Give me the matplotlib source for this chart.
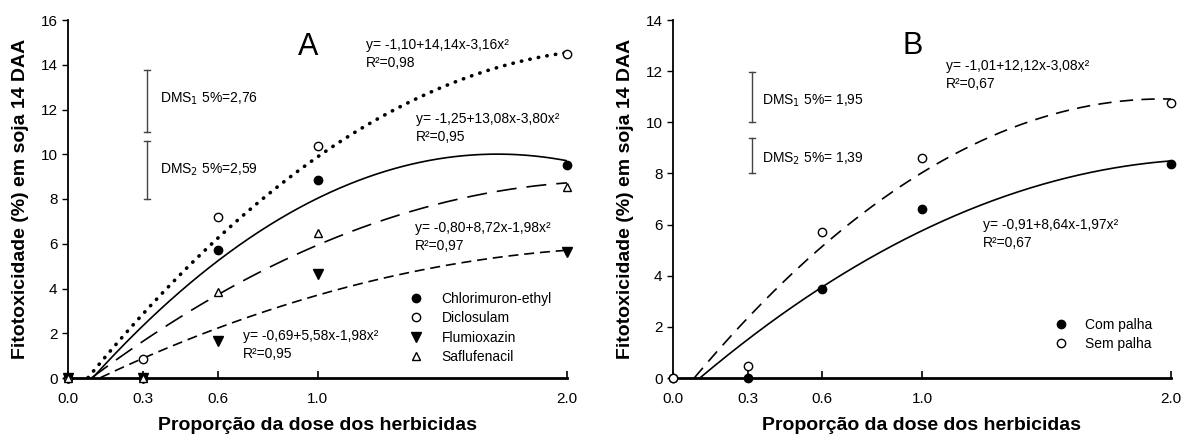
import numpy as np
import matplotlib
matplotlib.use("Agg")
import matplotlib.pyplot as plt

plt.rcParams['font.family'] = ['Liberation Sans', 'DejaVu Sans']

# ---------------- data ----------------
doses = [0.0, 0.3, 0.6, 1.0, 2.0]
xticklabels = ["0.0", "0.3", "0.6", "1.0", "2.0"]

# Panel A
chlorimuron = [0.0, 0.0, 5.7, 8.85, 9.5]
diclosulam = [0.0, 0.85, 7.2, 10.35, 14.5]
flumioxazin = [0.0, 0.0, 1.65, 4.65, 5.65]
saflufenacil = [0.0, 0.0, 3.85, 6.5, 8.55]
names_a = ["Chlorimuron-ethyl", "Diclosulam", "Flumioxazin", "Saflufenacil"]

# quadratic fit coefficients (a, b, c) for y = a + b x + c x^2
fit_chlorimuron = [-1.25, 13.08, -3.80]
fit_diclosulam = [-1.10, 14.14, -3.16]
fit_flumioxazin = [-0.69, 5.58, -1.19]
fit_saflufenacil = [-0.80, 8.72, -1.98]

eq_diclosulam = "y= -1,10+14,14x-3,16x²\nR²=0,98"
eq_chlorimuron = "y= -1,25+13,08x-3,80x²\nR²=0,95"
eq_saflufenacil = "y= -0,80+8,72x-1,98x²\nR²=0,97"
eq_flumioxazin = "y= -0,69+5,58x-1,98x²\nR²=0,95"

dms_a = [2.76, 2.59]
dms_a_text = ["DMS$_1$ 5%=2,76", "DMS$_2$ 5%=2,59"]

# Panel B
com_palha = [0.0, 0.0, 3.5, 6.6, 8.35]
sem_palha = [0.0, 0.45, 5.7, 8.6, 10.75]
names_b = ["Com palha", "Sem palha"]
fit_com = [-0.91, 8.64, -1.97]
fit_sem = [-1.01, 12.12, -3.08]
eq_sem = "y= -1,01+12,12x-3,08x²\nR²=0,67"
eq_com = "y= -0,91+8,64x-1,97x²\nR²=0,67"

dms_b = [1.95, 1.39]
dms_b_text = ["DMS$_1$ 5%= 1,95", "DMS$_2$ 5%= 1,39"]

xlabel = "Proporção da dose dos herbicidas"
ylabel = "Fitotoxicidade (%) em soja 14 DAA"

# ---------------- plotting ----------------
W, H = 1182, 437
fig = plt.figure(figsize=(W/100, H/100), dpi=100)
axA = fig.add_axes([68/W, 1-378/H, (567-68)/W, (378-20)/H])
axB = fig.add_axes([673/W, 1-378/H, (1171-673)/W, (378-20)/H])

xs = np.linspace(0, 2.0, 400)
FS = 10

def quad(c, x):
    return c[0] + c[1]*x + c[2]*x**2

def style(ax, ymax):
    ax.set_xlim(0, 2.0)
    ax.set_ylim(0, ymax)
    ax.spines['top'].set_visible(False)
    ax.spines['right'].set_visible(False)
    ax.spines['bottom'].set_linewidth(2.0)
    ax.spines['left'].set_linewidth(1.3)
    ax.set_xticks(doses)
    ax.set_xticklabels(xticklabels)
    ax.set_yticks(np.arange(0, ymax+1, 2))
    ax.tick_params(axis='x', direction='in', length=5, width=1.2, labelsize=11, pad=10)
    ax.tick_params(axis='y', direction='out', length=4, width=1.0, labelsize=11)
    ax.set_xlabel(xlabel, fontsize=14, fontweight='bold', labelpad=8)
    ax.set_ylabel(ylabel, fontsize=14, fontweight='bold', labelpad=8)

def dms_bar(ax, x, y0, h, text, tx, ty, cap):
    ax.plot([x, x], [y0, y0+h], color='#444444', lw=1.0)
    ax.plot([x-cap, x+cap], [y0, y0], color='#444444', lw=1.0)
    ax.plot([x-cap, x+cap], [y0+h, y0+h], color='#444444', lw=1.0)
    ax.text(tx, ty, text, fontsize=FS, va='center', ha='left')

def eq(ax, x, y, s):
    ax.text(x, y, s, fontsize=FS, ha='left', va='center', linespacing=1.35)

ms = 6
# Panel A
ys = quad(fit_diclosulam, xs); m = ys >= 0
axA.plot(xs[m], ys[m], color='black', lw=2.6, linestyle=(0, (0.1, 2.3)), dash_capstyle='round')
ys = quad(fit_chlorimuron, xs); m = ys >= 0
axA.plot(xs[m], ys[m], color='black', lw=1.2, linestyle='-')
ys = quad(fit_saflufenacil, xs); m = ys >= 0
axA.plot(xs[m], ys[m], color='black', lw=1.2, linestyle=(0, (12, 6)))
ys = quad(fit_flumioxazin, xs); m = ys >= 0
axA.plot(xs[m], ys[m], color='black', lw=1.2, linestyle=(0, (6, 3.5)))

h1, = axA.plot(doses, chlorimuron, 'o', color='black', ms=ms, mfc='black', clip_on=False, zorder=5)
h2, = axA.plot(doses, diclosulam, 'o', color='black', ms=ms, mfc='white', mew=1.0, clip_on=False, zorder=5)
h3, = axA.plot(doses, flumioxazin, 'v', color='black', ms=ms+1, mfc='black', clip_on=False, zorder=5)
h4, = axA.plot(doses, saflufenacil, '^', color='black', ms=ms, mfc='white', mew=1.0, clip_on=False, zorder=6)

axA.legend([h1, h2, h3, h4], names_a, loc='upper left', bbox_to_anchor=(0.683, 0.240),
           borderaxespad=0, borderpad=0, frameon=False, fontsize=FS,
           handlelength=1.0, handletextpad=1.35, labelspacing=0.38)

axA.text(0.962, 14.8, "A", fontsize=22, ha='center', va='center')
eq(axA, 1.195, 14.48, eq_diclosulam)
eq(axA, 1.395, 11.17, eq_chlorimuron)
eq(axA, 1.39, 6.32, eq_saflufenacil)
eq(axA, 0.70, 1.48, eq_flumioxazin)

dms_bar(axA, 0.317, 11.0, dms_a[0], dms_a_text[0], 0.369, 12.47, 0.012)
dms_bar(axA, 0.317, 8.0, dms_a[1], dms_a_text[1], 0.369, 9.3, 0.012)
style(axA, 16)

# Panel B
ys = quad(fit_sem, xs); m = ys >= 0
axB.plot(xs[m], ys[m], color='black', lw=1.2, linestyle=(0, (8, 5)))
ys = quad(fit_com, xs); m = ys >= 0
axB.plot(xs[m], ys[m], color='black', lw=1.2, linestyle='-')
g1, = axB.plot(doses, com_palha, 'o', color='black', ms=ms, mfc='black', clip_on=False, zorder=5)
g2, = axB.plot(doses, sem_palha, 'o', color='black', ms=ms, mfc='white', mew=1.0, clip_on=False, zorder=6)
axB.legend([g1, g2], names_b, loc='upper left', bbox_to_anchor=(0.765, 0.168),
           borderaxespad=0, borderpad=0, frameon=False, fontsize=FS,
           handlelength=1.0, handletextpad=1.2, labelspacing=0.38)

axB.text(0.964, 13.0, "B", fontsize=22, ha='center', va='center')
eq(axB, 1.096, 11.85, eq_sem)
eq(axB, 1.245, 5.63, eq_com)

dms_bar(axB, 0.317, 10.0, dms_b[0], dms_b_text[0], 0.357, 10.83, 0.012)
dms_bar(axB, 0.317, 8.0, dms_b[1], dms_b_text[1], 0.357, 8.56, 0.012)
style(axB, 14)

fig.savefig("out.png", dpi=100)
